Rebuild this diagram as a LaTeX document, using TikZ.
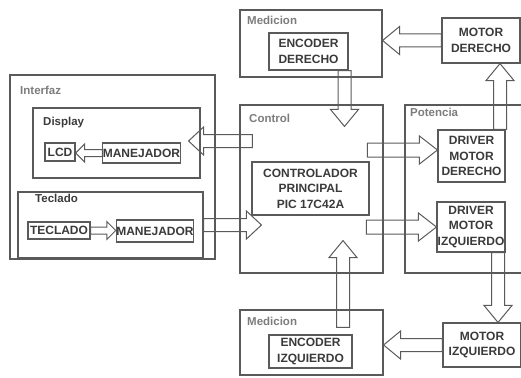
\documentclass[tikz,border=0pt]{standalone}
\usepackage{fontspec}
\setmainfont{Liberation Sans}
\usetikzlibrary{calc}

\definecolor{linegray}{HTML}{5A5A5A}
\definecolor{textgray}{HTML}{3A3A3A}
\definecolor{lblgray}{HTML}{7C7C7C}

\tikzset{
	box/.style={draw=linegray, line width=1.1pt, inner sep=0pt, align=center,
		font=\bfseries\fontsize{12}{15.5}\selectfont, text=textgray},
	group/.style={draw=linegray, line width=1.1pt, inner sep=0pt},
	lbl/.style={anchor=base west, inner sep=0pt, font=\bfseries\fontsize{11.5}{13}\selectfont, text=lblgray},
	sublbl/.style={lbl, text=textgray},
	fatarrow/.style={draw=linegray, line width=1pt, line join=miter}
}

% hollow block arrow: start, end, shaft half width, head half width, head length
\newcommand{\hollowarrow}[5]{%
	\path ($(#2)!#5!(#1)$) coordinate (ah);
	\draw[fatarrow] ($(#1)!#3!90:(#2)$) -- ($(ah)!#3!90:(#2)$) -- ($(ah)!#4!90:(#2)$) -- (#2)
	-- ($(ah)!#4!-90:(#2)$) -- ($(ah)!#3!-90:(#2)$) -- ($(#1)!#3!-90:(#2)$) -- cycle;
}

\begin{document}
\begin{tikzpicture}[x=1pt, y=-1pt]
	\useasboundingbox (0,0) rectangle (521,377);
	\clip (0,0) rectangle (521,377);
	
	% interfaz
	\node[group, minimum width=205, minimum height=184] (intf) at (112.5,167) {};
	\node[lbl] (lintf) at (20,95) {Interfaz};
	\node[group, minimum width=167, minimum height=70] (disp) at (116.5,143) {};
	\node[sublbl] (ldisp) at (43,125) {Display};
	\node[box, minimum width=30, minimum height=18] (lcd) at (60,152) {LCD};
	\node[box, minimum width=77, minimum height=20] (mand) at (141.5,153) {MANEJADOR};
	\node[group, minimum width=185, minimum height=66] (tecg) at (110.5,225) {};
	\node[sublbl] (ltecg) at (35,202) {Teclado};
	\node[box, minimum width=62, minimum height=17] (tecl) at (59,230.5) {TECLADO};
	\node[box, minimum width=76, minimum height=22] (mant) at (155,231) {MANEJADOR};
	
	% control
	\node[group, minimum width=143, minimum height=168] (ctrl) at (311.5,189) {};
	\node[lbl] (lctrl) at (249,122) {Control};
	\node[box, minimum width=117, minimum height=53] (cpu) at (310.5,188.5) {CONTROLADOR\\PRINCIPAL\\PIC 17C42A};
	
	% potencia
	\node[group, minimum width=125, minimum height=168] (pot) at (467.5,189) {};
	\node[lbl] (lpot) at (410,117) {Potencia};
	\node[box, minimum width=67, minimum height=52] (drvd) at (471.5,156) {DRIVER\\MOTOR\\DERECHO};
	\node[box, minimum width=68, minimum height=50] (drvi) at (471,227) {DRIVER\\MOTOR\\IZQUIERDO};
	
	% medicion
	\node[group, minimum width=142, minimum height=67] (medt) at (311,43.5) {};
	\node[lbl] (lmedt) at (247,25) {Medicion};
	\node[box, minimum width=79, minimum height=37] (encd) at (308.5,51.5) {ENCODER\\DERECHO};
	\node[group, minimum width=143, minimum height=65] (medb) at (311.5,342.5) {};
	\node[lbl] (lmedb) at (247,325) {Medicion};
	\node[box, minimum width=83, minimum height=33] (enci) at (310.5,351.5) {ENCODER\\IZQUIERDO};
	
	% motores
	\node[box, minimum width=78, minimum height=45] (motd) at (481,40.5) {MOTOR\\DERECHO};
	\node[box, minimum width=78, minimum height=44] (moti) at (482,345) {MOTOR\\IZQUIERDO};
	
	% arrow ends
	\coordinate (encdout) at ($(encd.south)+(36,0)$);
	\coordinate (ctrlin) at ($(ctrl.north -| encdout)+(0,22)$);
	\coordinate (drvdout) at ($(drvd.north)+(28.5,0)$);
	\coordinate (ctrlout) at ($(ctrl.west)+(13,-48)$);
	\coordinate (dispin) at ($(ctrlout -| disp.east)+(-12,0)$);
	\coordinate (tecgin) at ($(ctrl.west |- tecg.east)+(22,0)$);
	\coordinate (drvdin) at ($(drvd.west)+(0,-6)$);
	\coordinate (cpuoutd) at ($(drvdin)+(-70,0)$);
	\coordinate (cpuouti) at ($(drvi.west)+(-70,0)$);
	\coordinate (drviout) at ($(drvi.south)+(27,0)$);
	\coordinate (enciout) at ($(medb.north)+(31.5,18)$);
	\coordinate (enciin) at ($(ctrl.south -| enciout)+(0,-33)$);
	
	% big arrows
	\hollowarrow{motd.west}{medt.east |- motd.west}{6.5pt}{14pt}{17pt}
	\hollowarrow{encdout}{ctrlin}{6.5pt}{14pt}{17pt}
	\hollowarrow{drvdout}{motd.south -| drvdout}{6.5pt}{14pt}{17pt}
	\hollowarrow{ctrlout}{dispin}{6.5pt}{14pt}{15pt}
	\hollowarrow{tecg.east}{tecgin}{6.5pt}{14pt}{15pt}
	\hollowarrow{cpuoutd}{drvdin}{7pt}{14pt}{18pt}
	\hollowarrow{cpuouti}{drvi.west}{7pt}{14pt}{18pt}
	\hollowarrow{drviout}{moti.north -| drviout}{6.5pt}{14pt}{17pt}
	\hollowarrow{moti.west}{medb.east |- moti.west}{6.5pt}{14pt}{17pt}
	\hollowarrow{enciout}{enciin}{6.5pt}{14pt}{17pt}
	
	% small arrows
	\hollowarrow{mand.west}{lcd.east |- mand.west}{3.5pt}{9pt}{9pt}
	\hollowarrow{tecl.east}{mant.west |- tecl.east}{3.5pt}{9pt}{9pt}
\end{tikzpicture}
\end{document}
